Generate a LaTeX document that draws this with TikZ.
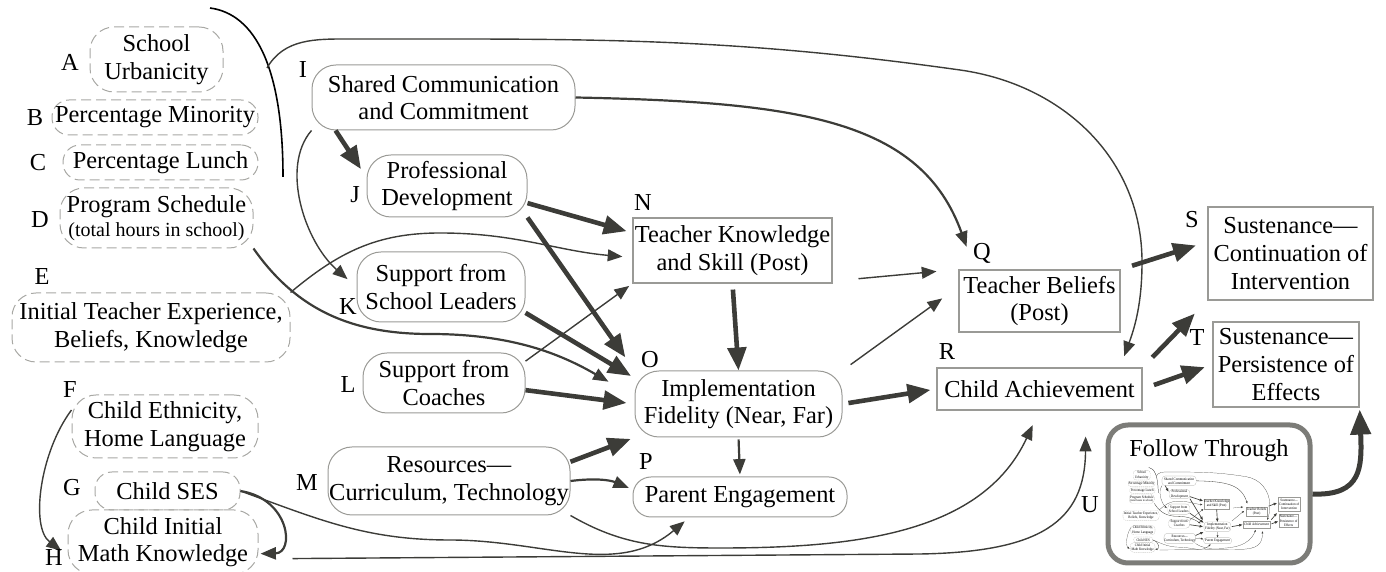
\documentclass[tikz,border=0pt]{standalone}
\usepackage{fontspec}
\setmainfont{Liberation Serif}
\usetikzlibrary{arrows.meta, positioning}

\definecolor{linkgray}{HTML}{3C3C38}
\definecolor{boxgray}{HTML}{9A9A96}
\definecolor{dashgray}{HTML}{A8A8A4}
\definecolor{ftgray}{HTML}{7C7C78}

\newcommand{\mainfs}{\fontsize{12.2}{13.8}\selectfont}
\newcommand{\smallfs}{\fontsize{10}{11}\selectfont}
\newcommand{\figscale}{1}

% the whole model; drawn full size and once more, small, in the Follow Through box
\newcommand{\modeldiagram}{%
  % school and child background (dashed)
  \node[ctx, minimum width=66.5pt, minimum height=32.5pt] (A) at (15.65,51.25) {School\\Urbanicity};
  \node[ctxflat, minimum width=103pt, minimum height=17.5pt] (B) at (15.5,45.45) {Percentage Minority};
  \node[ctxflat, minimum width=97.5pt, minimum height=17.5pt] (C) at (16.05,40.95) {Percentage Lunch};
  \node[ctx, minimum width=96.5pt, minimum height=30pt] (D) at (15.65,35.4) {Program Schedule\\[-2pt]{\smallfs (total hours in school)}};
  \node[ctx, minimum width=139pt, minimum height=34.5pt] (E) at (15.1,24.45) {Initial Teacher Experience,\\Beliefs, Knowledge};
  \node[ctx, minimum width=93pt, minimum height=31.5pt] (F) at (16.5,14.55) {Child Ethnicity,\\Home Language};
  \node[ctxflat, minimum width=72.5pt, minimum height=19pt] (G) at (16.75,8.1) {Child SES};
  \node[ctx, minimum width=95pt, minimum height=32pt] (H) at (16.3,3.0) {Child Initial\\Math Knowledge};
  % program parts
  \node[proc, minimum width=131.5pt, minimum height=32.5pt] (I) at (44.35,47.45) {Shared Communication\\and Commitment};
  \node[proc, minimum width=80pt, minimum height=31pt] (J) at (44.7,38.6) {Professional\\Development};
  \node[proc, minimum width=84pt, minimum height=35pt] (K) at (44.1,28.5) {Support from\\School Leaders};
  \node[proc, minimum width=81pt, minimum height=30pt] (L) at (44.4,18.9) {Support from\\Coaches};
  \node[proc, minimum width=121pt, minimum height=34pt] (M) at (44.9,9.1) {Resources---\\Curriculum, Technology};
  \node[outc, minimum width=99.5pt, minimum height=32.5pt] (N) at (73.25,32.15) {Teacher Knowledge\\and Skill (Post)};
  \node[proc, minimum width=103.5pt, minimum height=33pt] (O) at (73.85,16.8) {Implementation\\Fidelity (Near, Far)};
  \node[procflat, minimum width=107pt, minimum height=20pt] (P) at (74.0,7.5) {Parent Engagement};
  % outcomes
  \node[outc, minimum width=80.5pt, minimum height=31pt] (Q) at (103.95,27.1) {Teacher Beliefs\\(Post)};
  \node[outc, minimum width=102.5pt, minimum height=21pt] (R) at (103.95,18.3) {Child Achievement};
  \node[outc, minimum width=82.5pt, minimum height=46.5pt] (S) at (129.05,31.85) {Sustenance---\\Continuation of\\Intervention};
  \node[outc, minimum width=73pt, minimum height=42.5pt] (T) at (128.6,20.75) {Sustenance---\\Persistence of\\Effects};
  % bracket round A--C
  \coordinate (braceTop) at (21.0,56.4);
  \coordinate (braceBot) at (28.3,39.5);
  \coordinate (braceMid) at (26.7,50.4);
  \draw[groupline] (braceTop) .. controls (25.5,55.8) and (28.3,50.5) .. (braceBot);
  \draw[link, gap=6pt] (braceMid) to[out=60,in=180] (35,53.3) to[out=0,in=172] (96,50.2)
      to[out=-8,in=90] (114.2,31) to[out=-90,in=70] (R.15);
  % from I
  \draw[midlink, gap=12pt] (I.east) .. controls (80,47) and (92.1,45.2) .. (Q.154);
  \draw[heavylink, gap=5pt] (I.197) -- (J.174);
  \draw[link, gap=6pt] (I.south west) .. controls (28,40.5) and (30.5,33) .. (K.west);
  % background to program
  \draw[midlink, gap=15pt] (D.south east) to[out=-55,in=180] (43,23.8) to[out=0,in=150] (O.176);
  \draw[link, gap=5pt] (E.north east) to[out=40,in=180] (44,33.9) to[out=0,in=175] (N.184);
  \draw[link, gap=4pt] (F.170) .. controls (4,12) and (3,4.5) .. (H.188);
  \draw[midlink, gap=1pt] (G.east) .. controls (29,7.3) and (29.5,1.9) .. (H.-7);
  \draw[link, gap=3pt] (G.east) to[out=-20,in=180] (45,3.2) to[out=0,in=220] (P.202);
  \draw[link, lead=17pt, gap=13pt] (H.-10) -- (92,1.8) .. controls (104,2) and (108.5,5) .. (R.-25);
  % program to implementation
  \draw[heavylink, gap=3pt] (J.-12) -- (N.170);
  \draw[heavylink, gap=8pt] (J.south east) -- (O.north west);
  \draw[heavylink, gap=2pt] (K.-17) -- (O.166);
  \draw[link, gap=2pt] (L.15) -- (N.south west);
  \draw[heavylink, gap=4pt] (L.-5) -- (O.west);
  \draw[heavylink, gap=2pt] (M.9) -- (O.south west);
  \draw[midlink, gap=2pt] (M.east) to[bend left=15] (P.176);
  \draw[link, gap=8pt] (M.south east) to[out=-30,in=180] (72,2.4) to[out=0,in=-115] (R.south);
  \draw[heavylink, lead=3pt] (N.south) -- (O.north);
  \draw[midlink, lead=1pt, gap=1pt] (O.south) -- (P.north);
  % outcomes
  \draw[link, lead=13pt, gap=11pt] (N.-17) -- (Q.north west);
  \draw[link, lead=5pt, gap=10pt] (O.north east) -- (Q.170);
  \draw[heavylink, lead=3pt, gap=3pt] (O.east) -- (R.west);
  \draw[heavylink, lead=6pt, gap=6pt] (Q.north east) -- (S.172);
  \draw[heavylink, lead=7pt, gap=9pt] (R.north east) -- (S.south west);
  \draw[heavylink, lead=6pt, gap=4pt] (R.east) -- (T.west);
}

\begin{document}
\begin{tikzpicture}[x=5pt, y=5pt]
  \tikzset{ctx/.style = {draw=dashgray, dash pattern=on \figscale*5pt off \figscale*2.5pt,
      line width=\figscale*0.5pt, rounded corners=\figscale*12pt, align=center, inner sep=0pt, font=\mainfs}}
  \tikzset{ctxflat/.style = {ctx, rounded corners=\figscale*8.5pt}}
  \tikzset{proc/.style = {draw=boxgray, line width=\figscale*0.5pt, rounded corners=\figscale*12pt,
      align=center, inner sep=0pt, font=\mainfs}}
  \tikzset{procflat/.style = {proc, rounded corners=\figscale*9pt}}
  \tikzset{outc/.style = {draw=boxgray, line width=\figscale*0.6pt, align=center, inner sep=0pt, font=\mainfs}}
  \tikzset{lbl/.style = {inner sep=0pt, font=\mainfs}}
  \tikzset{ftbox/.style = {draw=ftgray, line width=2.5pt, rounded corners=10pt, fill=white}}
  \tikzset{groupline/.style = {draw=black, line width=\figscale*0.8pt}}
  \tikzset{link/.style = {draw=linkgray, line width=\figscale*0.7pt, -{Triangle[length=0pt 10.5 0, width=0pt 8.5 0]}}}
  \tikzset{midlink/.style = {draw=linkgray, line width=\figscale*1.1pt, -{Triangle[length=0pt 7 0, width=0pt 5.5 0]}}}
  \tikzset{heavylink/.style = {draw=linkgray, line width=\figscale*2.3pt, -{Triangle[length=0pt 5 0, width=0pt 4 0]}}}
  \tikzset{gap/.style = {shorten >=\figscale*#1}}
  \tikzset{lead/.style = {shorten <=\figscale*#1}}

  \useasboundingbox (0,0) rectangle (138.6,57.2);

  % Follow Through, with the model in small
  \node[ftbox, minimum width=101pt, minimum height=69pt] (FT) at (120.9,7.8) {};
  \begin{scope}[name prefix=mini-, shift={(112.14,2.0)}, xscale=0.13, yscale=0.15, transform shape]
    \renewcommand{\figscale}{0.14}
    \modeldiagram
  \end{scope}
  \node[below=6.5pt of FT.north, font=\mainfs, inner sep=2pt] (ftTitle) {Follow Through};

  \modeldiagram

  % letters
  \node[lbl] (lA) at (7.0,51.0) {A};
  \node[lbl] (lB) at (3.5,45.4) {B};
  \node[lbl] (lC) at (3.8,40.9) {C};
  \node[lbl] (lD) at (4.0,35.2) {D};
  \node[lbl] (lE) at (4.2,29.5) {E};
  \node[lbl] (lF) at (7.0,18.2) {F};
  \node[lbl] (lG) at (7.2,8.4) {G};
  \node[lbl] (lH) at (5.4,1.4) {H};
  \node[lbl] (lI) at (30.3,50.2) {I};
  \node[lbl] (lJ) at (35.5,37.7) {J};
  \node[lbl] (lK) at (34.8,26.5) {K};
  \node[lbl] (lL) at (34.8,18.7) {L};
  \node[lbl] (lM) at (30.7,8.9) {M};
  \node[lbl] (lN) at (64.3,36.9) {N};
  \node[lbl] (lO) at (65.0,21.2) {O};
  \node[lbl] (lP) at (64.6,11.0) {P};
  \node[lbl] (lQ) at (98.2,31.9) {Q};
  \node[lbl] (lR) at (94.7,22.0) {R};
  \node[lbl] (lS) at (119.2,35.2) {S};
  \node[lbl] (lT) at (119.7,23.4) {T};
  \node[lbl] (lU) at (109.0,6.7) {U};

  \draw[heavylink, line width=2.5pt, gap=1pt] (FT.east) .. controls (136.2,7.6) and (136.2,10.5) .. (T.south east);
\end{tikzpicture}
\end{document}
